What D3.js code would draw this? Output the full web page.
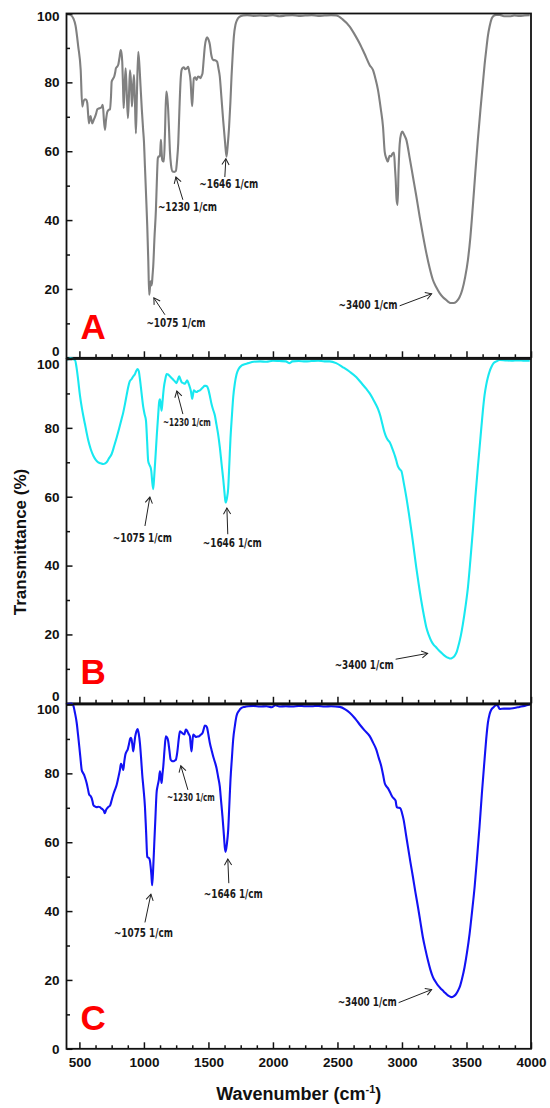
<!DOCTYPE html>
<html>
<head>
<meta charset="utf-8">
<script src="https://cdn.jsdelivr.net/npm/d3@7"></script>
<style>
  body { margin: 0; background: #fff; }
  svg text { font-family: "Liberation Sans", Arial, sans-serif; font-weight: bold; }
  svg text.note { font-family: "DejaVu Sans", sans-serif; font-stretch: condensed; }
</style>
</head>
<body>
<svg id="chart" width="550" height="1108"></svg>
<script>
// [wavenumber (1/cm), transmittance (%)]
const specA = [
  [404,99.8],[430,99.6],[453,98.6],[470,96.5],[491,90.4],[510,83.6],[522,73],[532,74.5],[543,75.1],[552,75],
  [561,74],[574,68.1],[580,69.5],[587,70.2],[593,69],[600,68.1],[610,69],[621,70],[630,71],[639,72.2],
  [655,72.5],[672,72.8],[680,73.5],[685,72],[690,69],[698,66.2],[706,69],[716,71.4],[727,72],[737,72.2],
  [745,76],[750,80.2],[760,81],[770,81.7],[778,83],[783,84.1],[791,84.5],[801,85.1],[810,87],[820,89.4],
  [826,88.5],[832,86],[838,79],[843,72.5],[850,78],[858,84.1],[866,78],[876,69.6],[884,76],[892,83.5],
  [900,80],[907,73],[915,78],[923,82.1],[930,75],[938,65.2],[946,77],[956,88.9],[965,85],[974,78.8],
  [984,72],[994,66.2],[1000,63],[1008,55.5],[1017,47],[1026,38.1],[1034,28],[1041,18.3],[1046,20],[1052,22.2],
  [1057,21],[1062,21.6],[1067,24],[1072,26.5],[1082,35],[1093,43],[1100,51],[1108,58],[1116,58.5],[1124,58.5],
  [1128,61],[1132,63.3],[1137,60],[1142,57.5],[1150,57],[1155,57],[1163,65],[1173,77.3],[1180,76],[1188,72],
  [1195,66],[1201,60.4],[1210,56],[1222,54.1],[1235,54],[1248,54.3],[1256,57],[1266,62.3],[1275,72],[1285,81],
  [1292,83.6],[1300,84.2],[1310,84.4],[1320,83.8],[1330,84],[1343,84.5],[1352,83],[1362,80.2],[1368,76],[1374,73.1],
  [1380,77],[1387,81.2],[1398,81.5],[1408,80.7],[1420,81.7],[1430,81.6],[1439,81.2],[1448,82],[1454,82.6],[1462,86],
  [1472,90.4],[1482,92.5],[1490,93.1],[1500,92.5],[1511,91],[1522,88],[1537,86.5],[1552,86.4],[1567,86],[1578,84],
  [1588,81.7],[1600,76],[1614,69.1],[1628,63],[1640,58.4],[1650,62],[1660,67],[1670,74],[1679,81.7],[1688,88],
  [1697,93.3],[1710,96.8],[1722,98.1],[1740,99],[1769,99.4],[1800,99.5],[1850,99.3],[1900,99.4],[1950,99.3],[2000,99.5],
  [2050,99.2],[2100,99.4],[2150,99.5],[2200,99.3],[2250,99.4],[2300,99.5],[2350,99.3],[2400,99.4],[2450,99.5],[2492,99.4],
  [2540,98.3],[2595,96.2],[2635,93.8],[2672,91.3],[2710,88.3],[2750,85],[2775,83.6],[2795,81],[2814,77.8],[2835,72.5],
  [2853,67.1],[2866,59.9],[2878,58],[2891,57],[2898,58],[2905,58.7],[2915,58.5],[2925,59.2],[2938,59.6],[2946,55],
  [2951,52],[2958,46],[2966,44.4],[2974,55],[2982,62],[2993,65],[3003,65.7],[3018,64.7],[3034,63.3],[3060,58],
  [3085,52.6],[3111,47],[3137,41],[3163,35.5],[3189,30.4],[3215,26],[3240,22.6],[3266,20.5],[3292,18.8],[3318,17.6],
  [3343,16.8],[3362,16.2],[3382,15.9],[3400,15.9],[3421,16.3],[3445,17.5],[3467,19.7],[3490,23.5],[3511,28.4],[3530,35],
  [3549,43.9],[3568,53.5],[3588,63.3],[3608,72],[3627,79.7],[3640,85],[3653,89.4],[3666,93.5],[3679,96.2],[3695,98.5],
  [3710,99.3],[3730,99.6],[3757,99.6],[3790,99.2],[3834,99.2],[3870,99.4],[3910,99.3],[3950,99.4],[3990,99.5]
];

const specB = [
  [404,99.7],[430,100.2],[466,99.7],[478,97.5],[491,93.7],[504,89.5],[518,86],[530,83.5],[543,81.1],[556,78.6],
  [569,76.3],[588,73.8],[608,71.9],[627,70.7],[646,70],[665,69.7],[685,69.5],[700,69.7],[711,70],[730,71.2],
  [750,72.4],[770,74.8],[789,77.2],[808,79.8],[827,82.6],[840,84.5],[853,86.9],[866,89.5],[878,91.8],[890,93.5],
  [905,94.2],[918,95],[930,95.6],[940,96.5],[951,97.1],[960,96.5],[969,94.2],[982,90],[995,86],[1005,84],
  [1016,82.1],[1025,76],[1033,70.4],[1040,69.5],[1046,69],[1052,68.5],[1057,67.5],[1064,64.5],[1072,62.2],[1080,66],
  [1091,72.4],[1100,78],[1111,84],[1118,87.5],[1124,88.3],[1130,87],[1137,85],[1145,88],[1155,91.8],[1165,94],
  [1176,95.6],[1188,95.5],[1201,95],[1214,94.5],[1227,94],[1240,93.5],[1253,93],[1263,94],[1273,95],[1282,94.2],
  [1292,93.3],[1305,93],[1317,92.8],[1326,93.3],[1335,93.8],[1345,93],[1356,91.8],[1365,90.5],[1374,88.4],[1380,89.5],
  [1387,90.9],[1398,90.6],[1408,90.4],[1420,90.7],[1434,90.9],[1445,91.3],[1459,91.8],[1470,92.2],[1480,92.2],[1490,92],
  [1498,91.3],[1510,89.5],[1524,86.9],[1537,85.2],[1550,83.6],[1562,81],[1575,78.2],[1588,74.5],[1602,69.5],[1615,65],
  [1625,61],[1633,58.3],[1643,59.5],[1653,62.4],[1662,69.5],[1671,77],[1682,83.5],[1692,88.9],[1705,93],[1718,95.6],
  [1735,97.2],[1757,98.1],[1780,98.5],[1808,98.8],[1850,99.2],[1900,99.3],[1950,99.2],[2000,99.5],[2050,99.4],[2100,99.3],
  [2130,98.8],[2150,99.3],[2200,99.4],[2250,99.3],[2300,99.4],[2350,99.5],[2400,99.3],[2440,99.3],[2490,98.8],[2543,97.6],
  [2595,96.3],[2647,94.7],[2690,92.8],[2724,91.3],[2750,90],[2775,88.4],[2795,87],[2814,85.5],[2832,83.5],[2848,81.1],
  [2862,79],[2874,77.7],[2890,76.5],[2905,75.8],[2920,74.5],[2936,72.9],[2946,71.8],[2956,70.5],[2963,69.5],[2969,68.8],
  [2982,68],[2995,67.5],[3015,63.8],[3034,59.8],[3054,55],[3073,50.1],[3092,44.8],[3111,39.4],[3130,34.5],[3150,29.7],
  [3170,25.5],[3189,22],[3208,19.8],[3227,18.1],[3246,17],[3266,16.2],[3285,15.4],[3305,14.7],[3325,14],[3343,13.5],
  [3360,13.2],[3374,13],[3390,13.2],[3408,13.8],[3425,15],[3441,17.2],[3457,19.8],[3472,23],[3492,28],[3511,33.6],
  [3530,41.5],[3549,50.1],[3568,59.5],[3588,68.5],[3608,77],[3627,85],[3640,89.5],[3653,92.5],[3666,94.7],[3680,96.5],
  [3692,97.6],[3710,98.8],[3731,99.3],[3757,99.7],[3800,99.6],[3850,99.5],[3900,99.6],[3950,99.5],[3990,99.5]
];

const specC = [
  [404,100],[420,100.2],[440,100.3],[453,99.7],[466,97.5],[479,94.7],[490,91],[499,87.8],[508,84.5],[518,81],
  [527,80.2],[536,79.6],[546,78.5],[556,77.2],[566,75.5],[576,73.8],[585,73.5],[595,72.8],[602,71.8],[608,70.8],
  [620,70.4],[634,70.2],[646,70.3],[659,70.2],[670,69.8],[679,69.6],[688,69.2],[698,68.4],[706,69.3],[716,69.9],
  [726,70.3],[737,70.6],[750,72.2],[762,73.8],[775,75.2],[789,76.7],[800,78.5],[814,81],[822,82.8],[827,82.5],
  [834,81.7],[840,81],[848,83.5],[856,85.4],[865,86.3],[874,86.9],[880,87.8],[886,88.8],[893,90],[899,90.3],
  [906,89.5],[912,87.8],[917,86.4],[925,88.5],[933,90.8],[942,92.2],[951,92.9],[960,91.5],[969,88.8],[978,84.5],
  [987,79.6],[997,75.5],[1008,70.3],[1017,63],[1026,55.8],[1034,55.5],[1041,55.3],[1047,54.5],[1052,53],[1058,50.5],
  [1064,47.5],[1072,52.5],[1080,59.4],[1089,67],[1098,74.3],[1107,76.5],[1116,78.2],[1124,80.6],[1130,79.2],[1137,77.2],
  [1143,79.5],[1150,82],[1160,87],[1170,90.8],[1178,90.5],[1188,89.4],[1198,86.5],[1207,84],[1217,83.6],[1227,83.5],
  [1238,83.7],[1248,84],[1255,85.2],[1261,86.9],[1270,90],[1279,92.2],[1288,92],[1297,91.7],[1305,91.5],[1313,91.3],
  [1319,92],[1325,92.7],[1334,92.4],[1343,91.7],[1350,91.2],[1356,90.8],[1362,88.5],[1369,86.4],[1375,88.8],[1382,91.3],
  [1392,91],[1402,90.6],[1415,90.7],[1428,90.8],[1440,91.2],[1454,91.7],[1463,92.8],[1472,93.9],[1481,93.8],[1490,93.2],
  [1500,91.2],[1511,88.8],[1524,86.8],[1537,84.9],[1550,83.3],[1563,81.5],[1575,79],[1588,76.2],[1598,72],[1609,67.4],
  [1620,62],[1627,58.5],[1633,57.2],[1643,59.5],[1653,63.5],[1662,70.8],[1671,78.2],[1682,84.5],[1692,89.9],[1705,93.8],
  [1718,96.7],[1737,98.2],[1757,99],[1780,99.3],[1808,99.5],[1850,99.6],[1900,99.4],[1950,99.5],[1990,99.2],[2020,99.8],
  [2050,99.4],[2100,99.5],[2150,99.4],[2200,99.6],[2250,99.5],[2300,99.5],[2350,99.6],[2400,99.4],[2450,99.5],[2518,99.3],
  [2560,98.6],[2595,97.6],[2635,96],[2672,94.2],[2710,92.5],[2750,90.8],[2775,89],[2801,86.9],[2820,84.5],[2840,82],
  [2854,79.5],[2866,77.2],[2878,76.3],[2891,75.7],[2908,74.5],[2925,73.2],[2940,72.6],[2951,72],[2956,70.8],[2960,70.2],
  [2975,70],[2987,69.9],[3000,68.5],[3013,66.5],[3030,62.5],[3046,58.7],[3065,54.3],[3085,49.9],[3104,45.5],[3124,41.2],
  [3143,36.8],[3162,32.4],[3182,28.8],[3201,25.7],[3220,23],[3240,20.8],[3260,19.5],[3279,18.4],[3298,17.6],[3317,16.9],
  [3336,16.2],[3356,15.5],[3370,15.2],[3382,15],[3400,15.2],[3415,15.7],[3430,16.6],[3447,17.9],[3465,20.3],[3485,23.7],
  [3504,28],[3524,33.4],[3543,39.8],[3563,47],[3582,55.5],[3601,64.5],[3620,74.5],[3640,84],[3653,90],[3666,94.7],
  [3679,97.2],[3692,98.5],[3710,99.2],[3731,99.9],[3745,99.5],[3757,98.7],[3790,98.8],[3834,98.8],[3870,99],[3910,99.3],
  [3950,99.6],[3990,100]
];

const panelNames = ["A", "B", "C"];
const lineColors = ["#808080", "#18e8f0", "#1212f4"];
const xTicks = [500, 1000, 1500, 2000, 2500, 3000, 3500, 4000];
const xMinor = [625, 750, 875, 1125, 1250, 1375, 1625, 1750, 1875, 2125, 2250, 2375,
                2625, 2750, 2875, 3125, 3250, 3375, 3625, 3750, 3875];
const yTicks = [0, 20, 40, 60, 80, 100];
const yMinor = [10, 30, 50, 70, 90];

// peak notes, all in data units: arrow tip, arrow tail, text spot
const notesA = [
  {label: "~1075 1/cm", tip: [1077, 17.4], tail: [1163, 12.5], at: [1248, 9.0], anchor: "middle", small: false},
  {label: "~1230 1/cm", tip: [1248, 52.5], tail: [1302, 45.9], at: [1337, 42.7], anchor: "middle", small: false},
  {label: "~1646 1/cm", tip: [1635, 57.8], tail: [1627, 52.5], at: [1658, 49.3], anchor: "middle", small: false},
  {label: "~3400 1/cm", tip: [3230, 18.6], tail: [2982, 15.1], at: [2966, 14.2], anchor: "end", small: false}
];
const notesB = [
  {label: "~1075 1/cm", tip: [1046, 59.9], tail: [1008, 51.5], at: [988, 46.8], anchor: "middle", small: false},
  {label: "~1230 1/cm", tip: [1255, 90.7], tail: [1302, 84.0], at: [1333, 80.5], anchor: "middle", small: true},
  {label: "~1646 1/cm", tip: [1643, 56.7], tail: [1650, 49.1], at: [1685, 45.3], anchor: "middle", small: false},
  {label: "~3400 1/cm", tip: [3199, 14.5], tail: [2951, 12.8], at: [2936, 9.9], anchor: "end", small: false}
];
const notesC = [
  {label: "~1075 1/cm", tip: [1054, 44.9], tail: [1008, 36.7], at: [996, 32.4], anchor: "middle", small: false},
  {label: "~1230 1/cm", tip: [1286, 82.2], tail: [1341, 75.2], at: [1364, 72.0], anchor: "middle", small: true},
  {label: "~1646 1/cm", tip: [1650, 55.1], tail: [1658, 48.1], at: [1693, 43.7], anchor: "middle", small: false},
  {label: "~3400 1/cm", tip: [3230, 17.2], tail: [2974, 13.4], at: [2959, 12.5], anchor: "end", small: false}
];

const spectra = [specA, specB, specC];
const notes = [notesA, notesB, notesC];

const svg = d3.select("#chart");
const left = 66.5, right = 531;
const top0 = 13.5, panelH = 344.3, gap = 1.2;

// shared wavenumber scale
const xScale = d3.scaleLinear().domain([400, 4000]).range([left, right]);

// open arrow head for the peak notes
svg.append("defs").append("marker")
    .attr("id", "head")
    .attr("markerUnits", "userSpaceOnUse")
    .attr("viewBox", "-8 -5 10 10")
    .attr("markerWidth", 10)
    .attr("markerHeight", 10)
    .attr("orient", "auto")
    .append("path")
    .attr("d", "M-6,-3.6 L0,0 L-6,3.6")
    .attr("fill", "none")
    .attr("stroke", "#222")
    .attr("stroke-width", 1);

function draw_panel(i) {
    const y0 = top0 + i * (panelH + gap);
    const yScale = d3.scaleLinear().domain([0, 100]).range([y0 + panelH, y0]);
    const g = svg.append("g").attr("class", "panel");
    const last = i === spectra.length - 1;

    // spectrum
    const line = d3.line()
        .x(d => xScale(d[0]))
        .y(d => yScale(d[1]))
        .curve(d3.curveMonotoneX);
    g.append("path")
        .datum(spectra[i])
        .attr("d", line)
        .attr("fill", "none")
        .attr("stroke", lineColors[i])
        .attr("stroke-width", 2.1)
        .attr("stroke-linejoin", "round");

    // left axis, ticks pointing in
    const yAxis = g.append("g")
        .attr("transform", `translate(${left},0)`)
        .call(d3.axisLeft(yScale).tickValues(yTicks).tickSizeInner(-6).tickSizeOuter(0).tickPadding(7));
    g.append("g")
        .attr("transform", `translate(${left},0)`)
        .call(d3.axisLeft(yScale).tickValues(yMinor).tickSizeInner(-3.5).tickSizeOuter(0).tickFormat(""));

    // labels at the panel joins sit a little off the line
    yAxis.selectAll(".tick text")
        .attr("dy", d => d === 100 ? (i === 0 ? "0.52em" : "0.7em") : (d === 0 && !last ? "-0.2em" : "0.32em"));

    // bottom axis, ticks pointing in, labels only on the last panel
    g.append("g")
        .attr("transform", `translate(0,${y0 + panelH})`)
        .call(d3.axisBottom(xScale).tickValues(xTicks).tickSizeInner(-6.5).tickSizeOuter(0).tickPadding(9)
            .tickFormat(last ? d3.format("d") : ""));
    g.append("g")
        .attr("transform", `translate(0,${y0 + panelH})`)
        .call(d3.axisBottom(xScale).tickValues(xMinor).tickSizeInner(-3.5).tickSizeOuter(0).tickFormat(""));

    g.selectAll(".domain").remove();
    g.selectAll(".tick line").attr("stroke", "#111").attr("stroke-width", 1.5);
    g.selectAll(".tick text").attr("font-size", 13.5).attr("fill", "#111");

    // frame
    g.append("rect")
        .attr("x", left).attr("y", y0)
        .attr("width", right - left).attr("height", panelH)
        .attr("fill", "none").attr("stroke", "#111").attr("stroke-width", 1.8);

    // panel letter
    g.append("text")
        .attr("x", left + 14).attr("y", yScale(5.5))
        .attr("font-size", 35).attr("fill", "#ff0000")
        .text(panelNames[i]);

    // peak notes
    const n = g.selectAll(".note-g").data(notes[i]).enter().append("g").attr("class", "note-g");
    n.append("line")
        .attr("x1", d => xScale(d.tail[0])).attr("y1", d => yScale(d.tail[1]))
        .attr("x2", d => xScale(d.tip[0])).attr("y2", d => yScale(d.tip[1]))
        .attr("stroke", "#222").attr("stroke-width", 1)
        .attr("marker-end", "url(#head)");
    n.append("text")
        .attr("class", "note")
        .attr("x", d => xScale(d.at[0])).attr("y", d => yScale(d.at[1]))
        .attr("text-anchor", d => d.anchor)
        .attr("font-size", d => d.small ? 10.5 : 12.5)
        .attr("textLength", d => d.small ? 48 : 59)
        .attr("lengthAdjust", "spacingAndGlyphs")
        .attr("fill", "#1a1a1a")
        .text(d => d.label);
}

spectra.forEach((s, i) => draw_panel(i));

// axis titles
svg.append("text")
    .attr("transform", "translate(26,542) rotate(-90)")
    .attr("text-anchor", "middle")
    .attr("font-size", 17).attr("fill", "#111")
    .text("Transmittance (%)");

const xTitle = svg.append("text")
    .attr("x", (left + right) / 2).attr("y", 1100)
    .attr("text-anchor", "middle")
    .attr("font-size", 18).attr("fill", "#111");
xTitle.append("tspan").text("Wavenumber (cm");
xTitle.append("tspan").attr("font-size", 11).attr("dy", -7).text("-1");
xTitle.append("tspan").attr("dy", 7).text(")");
</script>
</body>
</html>
